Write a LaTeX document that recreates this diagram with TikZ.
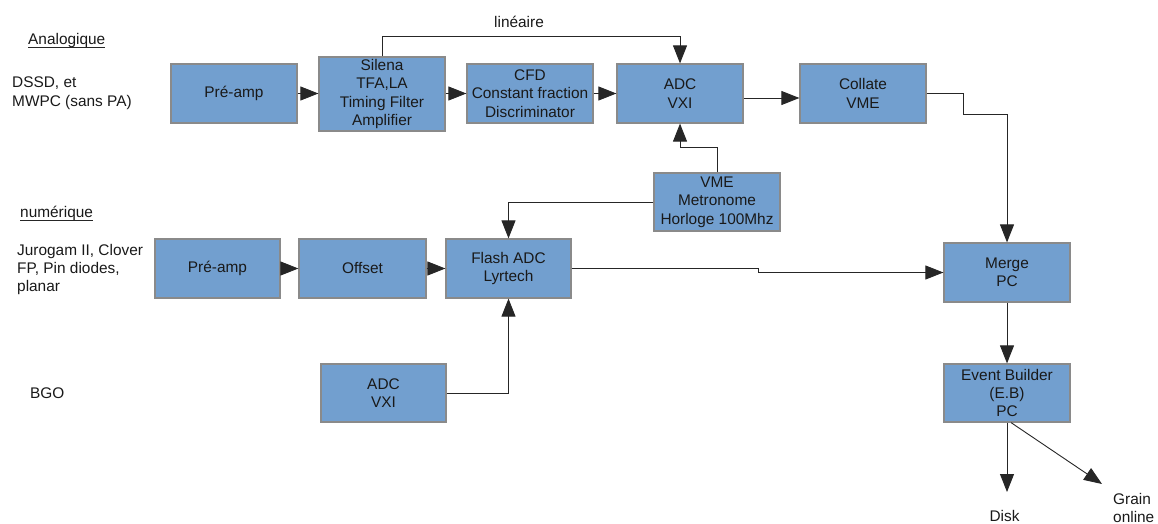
\documentclass[tikz,border=0pt]{standalone}
\usepackage{fontspec}
\setmainfont{Liberation Sans}
\usetikzlibrary{arrows.meta}
\definecolor{boxblue}{HTML}{729FCF}
\definecolor{boxline}{HTML}{8A8A8A}
\begin{document}
\begin{tikzpicture}[x=1pt,y=-1pt,
  every node/.style={font=\fontsize{15.4}{18.4}\selectfont, text=black!90},
  block/.style={draw=boxline, fill=boxblue, line width=1.2pt, align=center, inner sep=0pt, minimum width=126pt, minimum height=59pt},
  conn/.style={draw=black!85, line width=0.9pt},
  arr/.style={conn, -{Triangle[length=18pt,width=14pt]}},
  lbl/.style={inner sep=0pt, align=left},
  uline/.style={draw=black!85, line width=0.9pt},
]
\useasboundingbox (0,0) rectangle (1158,524);

% side labels
\node[lbl, anchor=base west] (ana) at (28,45) {Analogique};
\draw[uline] ([yshift=-2.5pt]ana.base west) -- ([yshift=-2.5pt]ana.base east);
\node[lbl, anchor=west, font=\fontsize{15.4}{19}\selectfont] (dssd) at (12,93.5) {DSSD, et\\MWPC (sans PA)};
\node[lbl, anchor=base west] (num) at (20,217.5) {numérique};
\draw[uline] ([yshift=-2.5pt]num.base west) -- ([yshift=-2.5pt]num.base east);
\node[lbl, anchor=west, font=\fontsize{15.4}{18}\selectfont] (juro) at (17,269.5) {Jurogam II, Clover\\FP, Pin diodes,\\planar};
\node[lbl, anchor=west] (bgo) at (30,393) {BGO};

% top row
\node[block] (pa1) at (234,93.5) {Pré-amp};
\node[block, minimum height=74pt] (sil) at (382,94) {Silena\\TFA,LA\\Timing Filter\\Amplifier};
\node[block] (cfd) at (530,93.5) {CFD\\Constant fraction\\Discriminator};
\node[block] (adc) at (680,93.5) {ADC\\VXI};
\node[block] (col) at (863,93.5) {Collate\\VME};
\node[block, minimum height=58pt] (vme) at (717,202) {VME\\Metronome\\Horloge 100Mhz};

% numeric row
\node[block, minimum width=125pt] (pa2) at (217.5,268.5) {Pré-amp};
\node[block, minimum width=127pt] (off) at (362.5,268.5) {Offset};
\node[block, minimum width=125pt] (fla) at (508.5,268.5) {Flash ADC\\Lyrtech};
\node[block, minimum width=125pt, minimum height=58pt] (adc2) at (383.5,393) {ADC\\VXI};

% right column
\node[block] (mer) at (1007,272.5) {Merge\\PC};
\node[block, minimum height=58pt] (eb) at (1007,393) {Event Builder\\(E.B)\\PC};

% outputs
\node[lbl, anchor=center] (disk) at (1004.5,516) {Disk};
\node[lbl, anchor=west, font=\fontsize{15.4}{18}\selectfont] (grain) at (1113,507.5) {Grain\\online};
\coordinate (dk) at (1007,492);
\coordinate (gr) at (1102,484);
\node[lbl, anchor=center] (lin) at (519,22) {linéaire};

% connectors top
\draw[arr] (pa1.east) -- (pa1.east -| sil.west);
\draw[arr] (sil.east |- cfd.west) -- (cfd.west);
\draw[arr] (cfd.east) -- (adc.west);
\draw[arr] ([yshift=-4.5pt]adc.east) -- ([yshift=-4.5pt]col.west);
\draw[arr] (sil.north) -- (sil.north |- 0,36) -| (adc.north);
\draw[arr] (col.east) -| (963,114) -| (mer.north);
\draw[arr] (vme.north) -- ++(0,-25) -| (adc.south);
\draw[arr] (vme.west) -| (fla.north);

% connectors numeric
\draw[arr] (pa2.east) -- (off.west);
\draw[arr] (off.east) -- (fla.west);
\draw[arr] (fla.east) -| (758,272.5) -- (mer.west);
\draw[arr] (adc2.east) -| (fla.south);

% right column
\draw[arr] (mer.south) -- (eb.north);
\draw[arr] (eb.south) -- (dk);
\draw[arr] ([xshift=4pt]eb.south) -- (gr);
\end{tikzpicture}
\end{document}
